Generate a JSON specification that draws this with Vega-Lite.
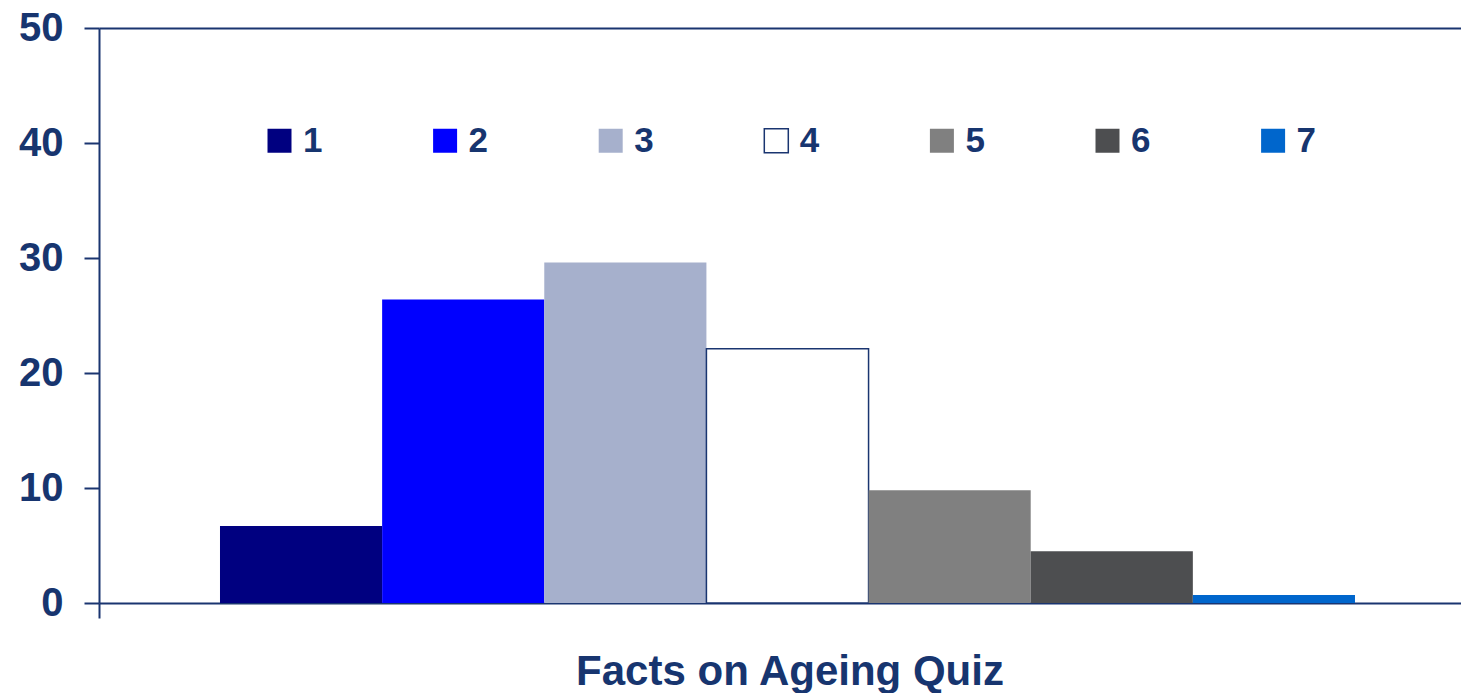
{
  "$schema": "https://vega.github.io/schema/vega-lite/v6.json",
  "width": 1362,
  "height": 575,
  "autosize": {"type": "none"},
  "padding": {"left": 99, "top": 28, "right": 0, "bottom": 90},
  "background": "white",
  "config": {
    "view": {"stroke": null},
    "font": "Liberation Sans",
    "legend": {
      "orient": "none",
      "legendX": 163,
      "legendY": 95,
      "direction": "horizontal",
      "columns": 7,
      "columnPadding": 104.6,
      "padding": 0,
      "symbolType": "square",
      "symbolSize": 576,
      "symbolStrokeWidth": 1.5,
      "labelFont": "Liberation Sans",
      "labelFontSize": 35,
      "labelFontWeight": "bold",
      "labelColor": "#17356f",
      "labelOffset": 6
    }
  },
  "data": {
    "values": [
      {"category": "Facts on Ageing Quiz", "score": "1", "percent": 6.7},
      {"category": "Facts on Ageing Quiz", "score": "2", "percent": 26.4},
      {"category": "Facts on Ageing Quiz", "score": "3", "percent": 29.6},
      {"category": "Facts on Ageing Quiz", "score": "4", "percent": 22.1},
      {"category": "Facts on Ageing Quiz", "score": "5", "percent": 9.8},
      {"category": "Facts on Ageing Quiz", "score": "6", "percent": 4.5},
      {"category": "Facts on Ageing Quiz", "score": "7", "percent": 0.7}
    ]
  },
  "mark": {"type": "bar", "strokeWidth": 1.5},
  "encoding": {
    "x": {
      "field": "category",
      "type": "nominal",
      "scale": {"paddingInner": 0, "paddingOuter": 0},
      "axis": {
        "title": null,
        "bandPosition": 0,
        "domainColor": "#1a3570",
        "domainWidth": 2,
        "tickColor": "#1a3570",
        "tickWidth": 2,
        "tickSize": 15,
        "labelFont": "Liberation Sans",
        "labelFontWeight": "bold",
        "labelFontSize": 42,
        "labelColor": "#17356f",
        "labelAngle": 0,
        "labelAlign": "center",
        "labelBaseline": "alphabetic",
        "labelPadding": 66,
        "labelOffset": 10,
        "labelLimit": 0
      }
    },
    "xOffset": {
      "field": "score",
      "type": "nominal",
      "scale": {"paddingInner": 0, "paddingOuter": 0.7, "align": 0.533}
    },
    "y": {
      "field": "percent",
      "type": "quantitative",
      "scale": {"domain": [0, 50], "nice": false},
      "axis": {
        "title": null,
        "values": [0, 10, 20, 30, 40, 50],
        "tickSize": 15,
        "tickWidth": 2,
        "tickColor": "#1a3570",
        "domainColor": "#1a3570",
        "domainWidth": 2,
        "labelFont": "Liberation Sans",
        "labelFontSize": 40,
        "labelFontWeight": "bold",
        "labelColor": "#17356f",
        "labelPadding": 21,
        "labelFlush": false,
        "labelOverlap": false,
        "grid": true,
        "gridColor": "#1a3570",
        "gridWidth": 2,
        "gridOpacity": {"condition": {"test": "datum.value == 50", "value": 1}, "value": 0}
      }
    },
    "fill": {
      "field": "score",
      "type": "nominal",
      "title": null,
      "scale": {
        "domain": ["1", "2", "3", "4", "5", "6", "7"],
        "range": ["#000080", "#0000ff", "#a6b0cc", "#ffffff", "#808080", "#4d4e50", "#0066cc"]
      }
    },
    "stroke": {
      "field": "score",
      "type": "nominal",
      "title": null,
      "scale": {
        "domain": ["1", "2", "3", "4", "5", "6", "7"],
        "range": ["transparent", "transparent", "transparent", "#1a3570", "transparent", "transparent", "transparent"]
      }
    }
  }
}
